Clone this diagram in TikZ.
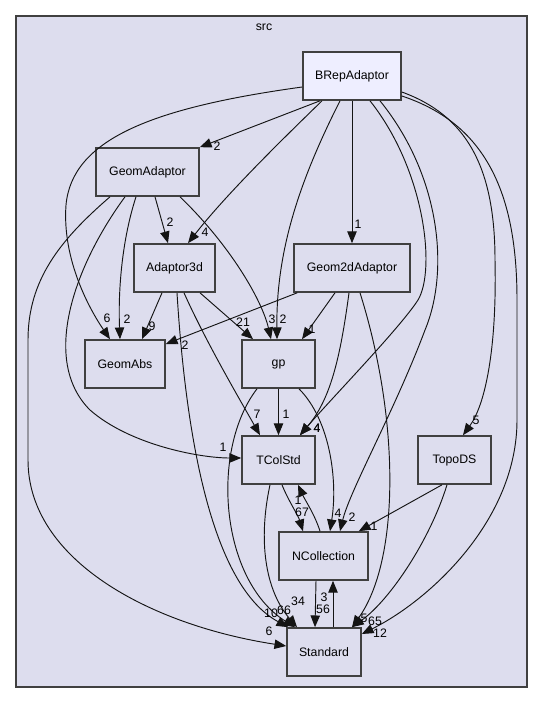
\documentclass[tikz,border=0pt]{standalone}
\usepackage{fontspec}
\setmainfont{Liberation Sans}
\usetikzlibrary{arrows.meta,calc}
\definecolor{dirfill}{HTML}{DDDDEE}
\definecolor{curfill}{HTML}{EEEEFF}
\definecolor{boxline}{HTML}{404040}
\definecolor{edgeline}{HTML}{141414}
\begin{document}
\begin{tikzpicture}[x={(0.03cm,0)},y={(0,-0.03cm)},
  dir/.style={draw=boxline,line width=1.4pt,fill=dirfill,minimum height=1.44cm,inner sep=0pt,font=\fontsize{10.5}{12}\selectfont},
  lbl/.style={inner sep=0pt,font=\fontsize{10.5}{12}\selectfont},
  dep/.style={draw=edgeline,line width=0.8pt,-{Triangle[length=10pt,width=8pt]}}]
\useasboundingbox (0,0) rectangle (544,703);
\draw[boxline,line width=1.4pt,fill=dirfill] (16,16) rectangle (527,687);
\node[lbl] (srclbl) at (264,27) {src};
% directories
\node[dir,fill=curfill,minimum width=2.94cm] (brep) at (352,76) {BRepAdaptor};
\node[dir,minimum width=3.09cm] (geomad) at (147.5,172) {GeomAdaptor};
\node[dir,minimum width=2.43cm] (adapt3d) at (174.5,268) {Adaptor3d};
\node[dir,minimum width=3.48cm] (geom2d) at (352,268) {Geom2dAdaptor};
\node[dir,minimum width=2.4cm] (geomabs) at (125,364) {GeomAbs};
\node[dir,minimum width=2.19cm] (gp) at (278.5,364) {gp};
\node[dir,minimum width=2.19cm] (tcolstd) at (278.5,460) {TColStd};
\node[dir,minimum width=2.19cm] (topods) at (454.5,460) {TopoDS};
\node[dir,minimum width=2.67cm] (ncoll) at (323.5,556) {NCollection};
\node[dir,minimum width=2.22cm] (standard) at (324,652) {Standard};
% BRepAdaptor
\draw[dep] ($(brep.south)+(-32,0)$) -- (geomad.north east);
\draw[dep] ($(brep.south)+(-30,0)$) .. controls (290,132) and (228,192) .. ($(adapt3d.north)+(13.5,0)$);
\draw[dep] (brep.south) -- (geom2d.north);
\draw[dep] ($(brep.west)+(0,11)$) .. controls (150,108) and (72,140) .. (66,205) .. controls (62,260) and (90,310) .. ($(geomabs.north)+(-15,0)$);
\draw[dep] ($(brep.south)+(-12,0)$) .. controls (300,180) and (276,250) .. ($(gp.north)+(-1.5,0)$);
\draw[dep] ($(brep.south)+(18,0)$) .. controls (425,170) and (436,270) .. (418,300) .. controls (400,328) and (330,400) .. ($(tcolstd.north)+(21.5,0)$);
\draw[dep] ($(brep.south)+(28,0)$) .. controls (440,175) and (450,270) .. (425,330) .. controls (395,410) and (350,490) .. ($(ncoll.north)+(16.5,0)$);
\draw[dep] ($(brep.east)+(0,16)$) .. controls (465,115) and (495,165) .. (495,260) .. controls (497,350) and (485,405) .. ($(topods.north)+(8.5,0)$);
\draw[dep] ($(brep.east)+(0,20)$) .. controls (490,125) and (517,200) .. (517,300) -- (517,420) .. controls (517,520) and (430,600) .. ($(standard.east)+(0,-18)$);
% GeomAdaptor
\draw[dep] ($(geomad.south)+(7.5,0)$) -- ($(adapt3d.north)+(-6.5,0)$);
\draw[dep] ($(geomad.south)+(-11.5,0)$) .. controls (122,240) and (118,290) .. ($(geomabs.north)+(-5,0)$);
\draw[dep] ($(geomad.south)+(32.5,0)$) .. controls (230,245) and (262,300) .. ($(gp.north)+(-7.5,0)$);
\draw[dep] ($(geomad.south)+(-22.5,0)$) .. controls (75,265) and (40,360) .. (90,410) .. controls (130,445) and (200,458) .. ($(tcolstd.west)+(0,-2)$);
\draw[dep] ($(geomad.south)+(-37.5,0)$) .. controls (60,240) and (28,280) .. (28,340) -- (28,460) .. controls (28,560) and (150,625) .. ($(standard.west)+(0,-6)$);
% Adaptor3d
\draw[dep] ($(adapt3d.south)+(-12.5,0)$) -- ($(geomabs.north)+(17,0)$);
\draw[dep] ($(adapt3d.south)+(25.5,0)$) -- ($(gp.north)+(-25.5,0)$);
\draw[dep] ($(adapt3d.south)+(9.5,0)$) .. controls (205,340) and (240,400) .. ($(tcolstd.north)+(-18.5,0)$);
\draw[dep] ($(adapt3d.south)+(2.5,0)$) .. controls (188,470) and (220,590) .. ($(standard.north west)+(2,0)$);
% Geom2dAdaptor
\draw[dep] ($(geom2d.south west)+(4,0)$) -- ($(geomabs.east)+(0,-20)$);
\draw[dep] ($(geom2d.south)+(-17,0)$) -- ($(gp.north)+(23.5,0)$);
\draw[dep] ($(geom2d.south)+(-3,0)$) .. controls (340,360) and (330,400) .. ($(tcolstd.north)+(21.5,0)$);
\draw[dep] ($(geom2d.south)+(8,0)$) .. controls (400,420) and (400,560) .. ($(standard.north)+(28,0)$);
% gp
\draw[dep] (gp) -- (tcolstd);
\draw[dep] ($(gp.south)+(20.5,0)$) .. controls (330,420) and (338,480) .. ($(ncoll.north)+(6.5,0)$);
\draw[dep] ($(gp.south)+(-21.5,0)$) .. controls (210,450) and (220,580) .. ($(standard.north)+(-29,0)$);
% TColStd
\draw[dep] ($(tcolstd.south)+(3.5,0)$) .. controls (288,500) and (298,515) .. ($(ncoll.north)+(-20.5,0)$);
\draw[dep] ($(tcolstd.south)+(-8.5,0)$) .. controls (258,540) and (265,590) .. ($(standard.north)+(-27,0)$);
% NCollection and Standard
\draw[dep] ($(ncoll.north)+(-3.5,0)$) .. controls (315,515) and (305,500) .. ($(tcolstd.south)+(19.5,0)$);
\draw[dep] ($(ncoll.south)+(-7.5,0)$) -- ($(standard.north)+(-9,0)$);
\draw[dep] ($(standard.north)+(9,0)$) -- ($(ncoll.south)+(9.5,0)$);
% TopoDS
\draw[dep] ($(topods.south)+(-12.5,0)$) -- ($(ncoll.north east)+(-10,0)$);
\draw[dep] ($(topods.south)+(-7.5,0)$) .. controls (430,540) and (390,600) .. ($(standard.north)+(28,0)$);
% edge counts
\node[lbl] (l1) at (217,146) {2};
\node[lbl] (l2) at (205,232) {4};
\node[lbl] (l3) at (358,224) {1};
\node[lbl] (l4) at (107,318) {6};
\node[lbl] (l5) at (283,319) {2};
\node[lbl] (l6) at (317,428) {4};
\node[lbl] (l7) at (352,517) {2};
\node[lbl] (l8) at (476,420) {5};
\node[lbl] (l9) at (380,633) {12};
\node[lbl] (l10) at (170,222) {2};
\node[lbl] (l11) at (127,319) {2};
\node[lbl] (l12) at (272,319) {3};
\node[lbl] (l13) at (223,447) {1};
\node[lbl] (l14) at (269,631) {6};
\node[lbl] (l15) at (152,326) {9};
\node[lbl] (l16) at (243,322) {21};
\node[lbl] (l17) at (257,414) {7};
\node[lbl] (l18) at (271,613) {10};
\node[lbl] (l19) at (185,345) {2};
\node[lbl] (l20) at (312,329) {1};
\node[lbl] (l21) at (317,428) {4};
\node[lbl] (l22) at (364,618) {5};
\node[lbl] (l23) at (286,414) {1};
\node[lbl] (l24) at (338,513) {4};
\node[lbl] (l25) at (284,610) {66};
\node[lbl] (l26) at (302,512) {67};
\node[lbl] (l27) at (298,601) {34};
\node[lbl] (l28) at (298,500) {1};
\node[lbl] (l29) at (323,609) {56};
\node[lbl] (l30) at (324,597) {3};
\node[lbl] (l31) at (374,526) {1};
\node[lbl] (l32) at (375,621) {65};
\end{tikzpicture}
\end{document}
